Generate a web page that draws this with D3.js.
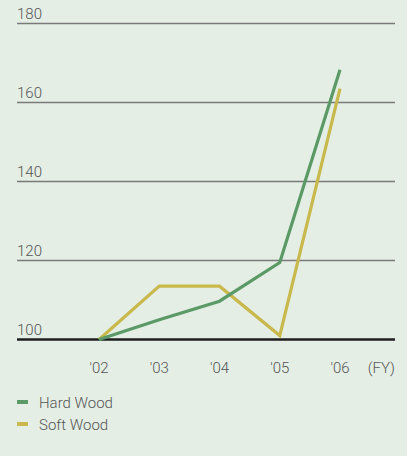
<!DOCTYPE html>
<html>
<head>
<meta charset="utf-8">
<script src="https://cdn.jsdelivr.net/npm/d3@7"></script>
<style>
    html, body { margin: 0; padding: 0; background: #e4eee5; }
    svg { display: block; font-family: "Roboto", "DejaVu Sans", sans-serif; font-weight: 300; }
</style>
</head>
<body>
<svg id="chart"></svg>
<script>
// Chart data
const years = ["'02", "'03", "'04", "'05", "'06"];
const hardWood = [100, 105, 109.7, 119.5, 168.3];
const softWood = [100, 113.5, 113.5, 101, 163.5];
const yTicks = [100, 120, 140, 160, 180];
const seriesNames = ["Hard Wood", "Soft Wood"];
const seriesColors = ["#5b9a66", "#c9b94c"];

const width = 407;
const height = 456;

const svg = d3.select("#chart")
    .attr("width", width)
    .attr("height", height);

const left = 17, right = 395;

const x = d3.scalePoint()
    .domain(years)
    .range([99, 340]);

const y = d3.scaleLinear()
    .domain([100, 180])
    .range([339.5, 23.5]);

// Gridlines and tick labels
const grid = svg.append("g");
grid.selectAll("line")
    .data(yTicks)
    .enter()
    .append("line")
    .attr("x1", left)
    .attr("x2", right)
    .attr("y1", d => y(d))
    .attr("y2", d => y(d))
    .attr("stroke", d => d === 100 ? "#1e1e1e" : "#7a7a7a")
    .attr("stroke-width", d => d === 100 ? 2.5 : 1.5);

grid.selectAll("text")
    .data(yTicks)
    .enter()
    .append("text")
    .attr("x", left)
    .attr("y", d => y(d) - 4.5)
    .attr("font-size", "15px")
    .attr("fill", "#555")
    .text(d => d);

// X axis labels
svg.append("g")
    .selectAll("text")
    .data(years)
    .enter()
    .append("text")
    .attr("x", d => x(d))
    .attr("y", 373)
    .attr("text-anchor", "middle")
    .attr("font-size", "15px")
    .attr("fill", "#555")
    .text(d => d);

svg.append("text")
    .attr("x", right)
    .attr("y", 373)
    .attr("text-anchor", "end")
    .attr("font-size", "15px")
    .attr("fill", "#555")
    .text("(FY)");

// Lines
const line = d3.line()
    .x((d, i) => x(years[i]))
    .y(d => y(d));

[softWood, hardWood].forEach((values, k) => {
    svg.append("path")
        .datum(values)
        .attr("fill", "none")
        .attr("stroke", seriesColors[1 - k])
        .attr("stroke-width", 3.2)
        .attr("stroke-linejoin", "miter")
        .attr("d", line);
});

// Legend
const legend = svg.append("g")
    .selectAll("g")
    .data(seriesNames)
    .enter()
    .append("g")
    .attr("transform", (d, i) => `translate(${left},${402 + i * 22})`);

legend.append("line")
    .attr("x1", 0)
    .attr("x2", 11)
    .attr("stroke", (d, i) => seriesColors[i])
    .attr("stroke-width", 4);

legend.append("text")
    .attr("x", 22)
    .attr("y", 5.5)
    .attr("font-size", "15px")
    .attr("fill", "#555")
    .text(d => d);
</script>
</body>
</html>
